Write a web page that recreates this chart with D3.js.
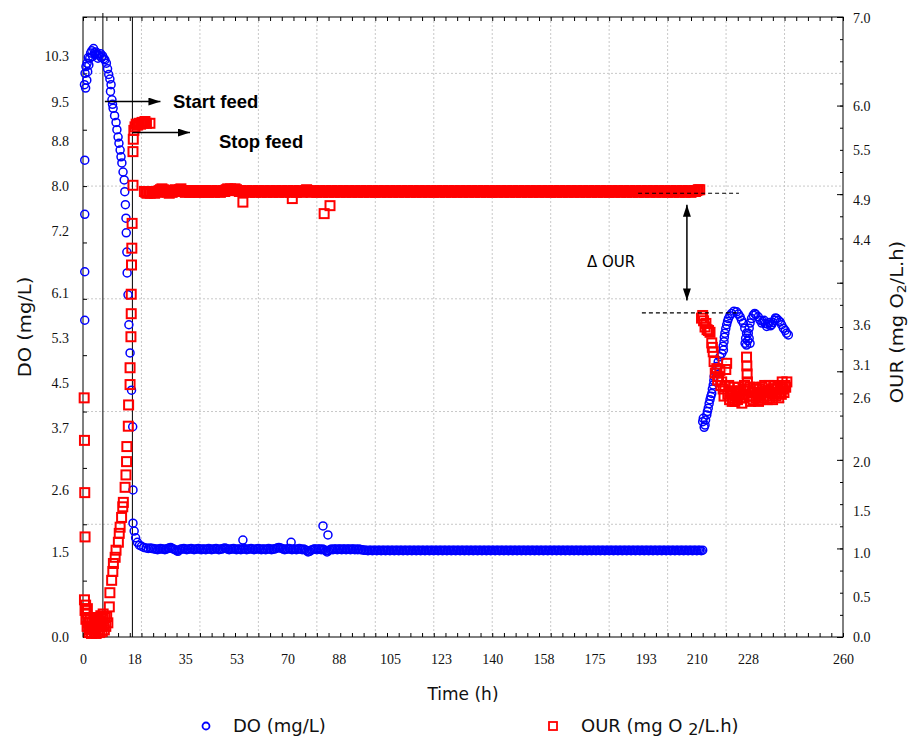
<!DOCTYPE html>
<html>
<head>
<meta charset="utf-8">
<script src="https://cdn.jsdelivr.net/npm/d3@7/dist/d3.min.js"></script>
<style>
  body { margin: 0; background: #fff; }
</style>
</head>
<body>
<div id="chart"></div>
<script>

// ---- data (time in h, DO in mg/L, OUR in mg O2/L.h) ----

var xTickPos = [0, 17.5, 35, 52.5, 70, 87.5, 105, 122.5, 140, 157.5, 175, 192.5, 210, 227.5, 260];
var xTickLabels = ["0", "18", "35", "53", "70", "88", "105", "123", "140", "158", "175", "193", "210", "228", "260"];
var leftTickLabels = ["0.0", "1.5", "2.6", "3.7", "4.5", "5.3", "6.1", "7.2", "8.0", "8.8", "9.5", "10.3"];
var rightTickLabels = ["0.0", "0.5", "1.0", "1.5", "2.0", "2.6", "3.1", "3.6", "4.4", "4.9", "5.5", "6.0", "7.0"];
var rightTickPos = [0, 0.45, 0.95, 1.42, 1.97, 2.7, 3.07, 3.52, 4.48, 4.93, 5.5, 5.99, 6.99];

// DO, start-up and feed phase [t, DO]
var doEarly = [
  [0.6, 8.46], [0.6, 7.50], [0.6, 6.48], [0.6, 5.62],
  [0.5, 9.80], [0.7, 10.0], [0.9, 9.74], [1.0, 10.12], [1.3, 9.88], [1.4, 10.18], [1.6, 10.03], [1.8, 10.28],
  [2.0, 10.15], [2.3, 10.27], [2.6, 10.36], [3.0, 10.40], [3.3, 10.30], [3.6, 10.44], [3.9, 10.36], [4.1, 10.33],
  [4.4, 10.38], [4.8, 10.34], [5.1, 10.27], [5.5, 10.32], [6.0, 10.35], [6.3, 10.28], [6.7, 10.31], [7.1, 10.26],
  [7.5, 10.24], [8.0, 10.18], [8.4, 10.08], [8.8, 9.98], [9.2, 9.90], [9.6, 9.80], [9.4, 9.68], [9.9, 9.53],
  [10.1, 9.45], [10.3, 9.38], [10.8, 9.25], [11.3, 9.13], [11.6, 9.00], [12.0, 8.87], [12.3, 8.76], [12.7, 8.64],
  [13.0, 8.52], [13.3, 8.41], [13.7, 8.25], [14.1, 8.11], [14.3, 7.90], [14.5, 7.67], [14.7, 7.43], [14.8, 7.17],
  [15.0, 6.83], [15.1, 6.46], [15.4, 6.07], [15.7, 5.54], [16.1, 5.04], [16.6, 4.38], [17.0, 3.73], [17.1, 2.61],
  [17.1, 2.02], [17.5, 1.88], [18.0, 1.76], [18.6, 1.68], [19.3, 1.63], [20.0, 1.61], [20.8, 1.59], [21.6, 1.58],
  [22.3, 1.57]
];

// DO, steady phase: readings every doBandStep h from doBandStart
var doBandStart = 23;
var doBandStep = 0.5;
var doBand = [
  1.58, 1.57, 1.57, 1.56, 1.56, 1.55, 1.56, 1.57, 1.56, 1.56, 1.55, 1.56, 1.57, 1.58, 1.59, 1.57, 1.56, 1.55, 1.53, 1.52,
  1.55, 1.56, 1.56, 1.57, 1.56, 1.55, 1.56, 1.56, 1.57, 1.56, 1.55, 1.56, 1.56, 1.57, 1.56, 1.55, 1.56, 1.56, 1.55, 1.56,
  1.57, 1.56, 1.55, 1.56, 1.56, 1.57, 1.56, 1.55, 1.56, 1.56, 1.57, 1.58, 1.57, 1.56, 1.55, 1.56, 1.56, 1.57, 1.56, 1.55,
  1.56, 1.56, 1.55, 1.56, 1.57, 1.56, 1.55, 1.56, 1.56, 1.57, 1.56, 1.55, 1.56, 1.56, 1.57, 1.56, 1.55, 1.56, 1.56, 1.55,
  1.56, 1.57, 1.56, 1.55, 1.56, 1.56, 1.57, 1.58, 1.59, 1.58, 1.57, 1.56, 1.55, 1.56, 1.56, 1.57, 1.56, 1.55, 1.56, 1.56,
  1.55, 1.56, 1.57, 1.56, 1.55, 1.56, 1.55, 1.53, 1.51, 1.52, 1.54, 1.55, 1.56, 1.56, 1.55, 1.56, 1.56, 1.55, 1.56, 1.55,
  1.53, 1.51, 1.53, 1.55, 1.56, 1.55, 1.56, 1.56, 1.55, 1.56, 1.56, 1.55, 1.56, 1.56, 1.55, 1.56, 1.56, 1.55, 1.56, 1.56,
  1.55, 1.56, 1.55, 1.56, 1.55, 1.55, 1.54, 1.54, 1.54, 1.53, 1.54, 1.54, 1.53, 1.54, 1.54, 1.53, 1.54, 1.54, 1.53, 1.54,
  1.54, 1.53, 1.54, 1.54, 1.53, 1.54, 1.54, 1.53, 1.54, 1.54, 1.53, 1.54, 1.54, 1.53, 1.54, 1.54, 1.53, 1.54, 1.54, 1.53,
  1.54, 1.54, 1.53, 1.54, 1.54, 1.53, 1.54, 1.54, 1.53, 1.54, 1.54, 1.53, 1.54, 1.54, 1.53, 1.54, 1.54, 1.53, 1.54, 1.54,
  1.53, 1.54, 1.54, 1.53, 1.54, 1.54, 1.53, 1.54, 1.54, 1.53, 1.54, 1.54, 1.53, 1.54, 1.54, 1.53, 1.54, 1.54, 1.53, 1.54,
  1.54, 1.53, 1.54, 1.54, 1.53, 1.54, 1.54, 1.53, 1.54, 1.54, 1.53, 1.54, 1.54, 1.53, 1.54, 1.54, 1.53, 1.54, 1.54, 1.53,
  1.54, 1.54, 1.53, 1.54, 1.54, 1.53, 1.54, 1.54, 1.53, 1.54, 1.54, 1.53, 1.54, 1.54, 1.53, 1.54, 1.54, 1.53, 1.54, 1.54,
  1.53, 1.54, 1.54, 1.53, 1.54, 1.54, 1.53, 1.54, 1.54, 1.53, 1.54, 1.54, 1.53, 1.54, 1.54, 1.53, 1.54, 1.54, 1.53, 1.54,
  1.54, 1.53, 1.54, 1.54, 1.53, 1.54, 1.54, 1.53, 1.54, 1.54, 1.53, 1.54, 1.54, 1.53, 1.54, 1.54, 1.53, 1.54, 1.54, 1.53,
  1.54, 1.54, 1.53, 1.54, 1.54, 1.53, 1.54, 1.54, 1.53, 1.54, 1.54, 1.53, 1.54, 1.54, 1.53, 1.54, 1.54, 1.53, 1.54, 1.54,
  1.53, 1.54, 1.54, 1.53, 1.54, 1.54, 1.53, 1.54, 1.54, 1.53, 1.54, 1.54, 1.53, 1.54, 1.54, 1.53, 1.54, 1.54, 1.53, 1.54,
  1.54, 1.53, 1.54, 1.54, 1.53, 1.54, 1.54, 1.53, 1.54, 1.54, 1.53, 1.54, 1.54, 1.53, 1.54, 1.54, 1.53, 1.54, 1.54, 1.53,
  1.54, 1.54, 1.53, 1.54, 1.54, 1.53, 1.54, 1.54, 1.53, 1.54, 1.54, 1.53, 1.54, 1.54, 1.53, 1.54, 1.54, 1.53, 1.54
];
var doOutliers = [[54.7, 1.72], [71.2, 1.68], [82.1, 1.97], [83.8, 1.81]];

// DO after the step change [t, DO]
var doCluster = [
  [212.0, 3.82], [212.2, 3.88], [212.5, 3.72], [212.8, 3.76], [213.0, 3.85], [213.4, 3.94], [213.6, 4.00], [213.9, 4.06],
  [214.2, 4.14], [214.5, 4.21], [214.8, 4.27], [215.1, 4.32], [215.3, 4.40], [215.6, 4.47], [215.8, 4.55], [215.9, 4.62],
  [216.3, 4.70], [216.8, 4.80], [217.3, 4.88], [217.9, 4.97], [218.5, 5.03], [219.1, 5.09], [219.0, 5.16], [219.3, 5.24],
  [219.4, 5.32], [219.6, 5.39], [219.9, 5.47], [220.2, 5.54], [220.5, 5.60], [220.8, 5.65], [221.3, 5.70], [221.9, 5.74],
  [222.7, 5.78], [223.6, 5.77], [224.2, 5.73], [224.8, 5.68], [225.3, 5.62], [225.9, 5.57], [226.4, 5.48], [227.0, 5.39],
  [226.7, 5.30], [226.5, 5.21], [227.0, 5.18], [227.4, 5.26], [228.2, 5.21], [227.9, 5.30], [227.6, 5.39], [227.9, 5.48],
  [228.2, 5.57], [228.7, 5.65], [229.3, 5.71], [229.8, 5.74], [230.2, 5.72], [231.0, 5.68], [231.6, 5.62], [232.2, 5.57],
  [232.6, 5.60], [233.0, 5.62], [233.4, 5.56], [233.9, 5.51], [234.3, 5.55], [234.8, 5.58], [235.2, 5.52], [235.6, 5.54],
  [236.0, 5.58], [236.5, 5.62], [236.9, 5.66], [237.3, 5.65], [237.9, 5.62], [238.5, 5.59], [239.0, 5.54], [239.6, 5.48],
  [240.2, 5.44], [240.7, 5.39], [241.3, 5.36]
];

// OUR, start-up and feed phase [t, OUR]
var ourEarly = [
  [0.4, 2.70], [0.5, 2.22], [0.6, 1.63], [0.7, 1.13],
  [0.5, 0.42], [0.7, 0.30], [0.9, 0.36], [1.0, 0.20], [1.2, 0.27], [1.4, 0.12], [1.5, 0.32], [1.7, 0.22],
  [1.9, 0.16], [2.1, 0.05], [2.3, 0.08], [2.5, 0.20], [2.7, 0.12], [2.9, 0.04], [3.1, 0.17], [3.3, 0.09],
  [3.5, 0.10], [3.7, 0.20], [3.9, 0.06], [4.1, 0.14], [4.3, 0.12], [4.5, 0.04], [4.7, 0.16], [4.9, 0.22],
  [5.1, 0.08], [5.3, 0.18], [5.5, 0.14], [5.7, 0.05], [5.9, 0.18], [6.1, 0.24], [6.3, 0.12], [6.5, 0.06],
  [6.7, 0.20], [6.9, 0.26], [7.1, 0.14], [7.3, 0.08], [7.5, 0.22], [7.8, 0.12], [8.1, 0.23], [8.5, 0.16],
  [9.0, 0.34], [9.2, 0.50], [9.8, 0.64], [10.2, 0.74], [10.4, 0.83], [11.0, 0.90], [11.3, 0.98], [12.1, 1.07],
  [12.4, 1.17], [12.7, 1.24], [13.2, 1.35], [13.6, 1.47], [13.8, 1.52], [14.4, 1.69], [14.7, 1.83], [14.9, 1.98],
  [15.0, 2.15], [15.5, 2.38], [15.6, 2.62], [16.1, 2.85], [16.1, 3.04], [16.4, 3.39], [16.5, 3.65], [16.5, 3.87],
  [16.6, 4.20], [16.7, 4.39], [16.8, 4.67], [17.1, 5.10], [17.1, 5.48], [17.2, 5.62], [17.4, 5.72], [17.8, 5.76],
  [18.2, 5.79], [18.7, 5.78], [19.2, 5.80], [19.7, 5.79], [20.2, 5.81], [20.7, 5.80], [21.2, 5.82], [21.7, 5.80],
  [22.9, 5.80]
];

// OUR, steady phase: readings every ourBandStep h from ourBandStart
var ourBandStart = 21;
var ourBandStep = 0.5;
var ourBand = [
  5.03, 5.02, 5.01, 5.02, 5.01, 5.03, 5.02, 5.01, 5.03, 5.02, 5.04, 5.05, 5.06, 5.05, 5.04, 5.03, 5.02, 5.01, 5.03, 5.02,
  5.04, 5.05, 5.04, 5.03, 5.05, 5.06, 5.04, 5.03, 5.02, 5.04, 5.03, 5.02, 5.04, 5.03, 5.02, 5.04, 5.03, 5.02, 5.03, 5.04,
  5.03, 5.02, 5.04, 5.03, 5.02, 5.03, 5.04, 5.03, 5.02, 5.03, 5.04, 5.03, 5.02, 5.03, 5.04, 5.03, 5.05, 5.06, 5.05, 5.06,
  5.05, 5.04, 5.06, 5.05, 5.04, 5.03, 5.04, 5.03, 5.02, 5.03, 5.04, 5.03, 5.02, 5.03, 5.04, 5.03, 5.02, 5.03, 5.04, 5.03,
  5.02, 5.03, 5.04, 5.03, 5.02, 5.03, 5.04, 5.03, 5.02, 5.03, 5.04, 5.03, 5.02, 5.03, 5.04, 5.03, 5.02, 5.03, 5.04, 5.03,
  5.02, 5.03, 5.04, 5.03, 5.02, 5.03, 5.04, 5.03, 5.02, 5.03, 5.04, 5.05, 5.04, 5.03, 5.02, 5.03, 5.04, 5.03, 5.02, 5.03,
  5.04, 5.03, 5.02, 5.03, 5.04, 5.03, 5.02, 5.03, 5.04, 5.03, 5.02, 5.03, 5.04, 5.03, 5.02, 5.03, 5.04, 5.03, 5.02, 5.03,
  5.04, 5.03, 5.02, 5.03, 5.04, 5.03, 5.02, 5.03, 5.04, 5.03, 5.02, 5.03, 5.04, 5.03, 5.02, 5.03, 5.04, 5.03, 5.02, 5.03,
  5.04, 5.03, 5.02, 5.03, 5.04, 5.03, 5.02, 5.03, 5.04, 5.03, 5.02, 5.03, 5.04, 5.03, 5.02, 5.03, 5.04, 5.03, 5.02, 5.03,
  5.04, 5.03, 5.02, 5.03, 5.04, 5.03, 5.02, 5.03, 5.04, 5.03, 5.02, 5.03, 5.04, 5.03, 5.02, 5.03, 5.04, 5.03, 5.02, 5.03,
  5.04, 5.03, 5.02, 5.03, 5.04, 5.03, 5.02, 5.03, 5.04, 5.03, 5.02, 5.03, 5.04, 5.03, 5.02, 5.03, 5.04, 5.03, 5.02, 5.03,
  5.04, 5.03, 5.02, 5.03, 5.04, 5.03, 5.02, 5.03, 5.04, 5.03, 5.02, 5.03, 5.04, 5.03, 5.02, 5.03, 5.04, 5.03, 5.02, 5.03,
  5.04, 5.03, 5.02, 5.03, 5.04, 5.03, 5.02, 5.03, 5.04, 5.03, 5.02, 5.03, 5.04, 5.03, 5.02, 5.03, 5.04, 5.03, 5.02, 5.03,
  5.04, 5.03, 5.02, 5.03, 5.04, 5.03, 5.02, 5.03, 5.04, 5.03, 5.02, 5.03, 5.04, 5.03, 5.02, 5.03, 5.04, 5.03, 5.02, 5.03,
  5.04, 5.03, 5.02, 5.03, 5.04, 5.03, 5.02, 5.03, 5.04, 5.03, 5.02, 5.03, 5.04, 5.03, 5.02, 5.03, 5.04, 5.03, 5.02, 5.03,
  5.04, 5.03, 5.02, 5.03, 5.04, 5.03, 5.02, 5.03, 5.04, 5.03, 5.02, 5.03, 5.04, 5.03, 5.02, 5.03, 5.04, 5.03, 5.02, 5.03,
  5.04, 5.03, 5.02, 5.03, 5.04, 5.03, 5.02, 5.03, 5.04, 5.03, 5.02, 5.03, 5.04, 5.03, 5.02, 5.03, 5.04, 5.03, 5.02, 5.03,
  5.04, 5.03, 5.02, 5.03, 5.04, 5.03, 5.02, 5.03, 5.04, 5.03, 5.02, 5.03, 5.04, 5.03, 5.02, 5.03, 5.04, 5.03, 5.02, 5.03,
  5.04, 5.03, 5.02, 5.03, 5.04, 5.03, 5.02, 5.03, 5.04, 5.03, 5.02, 5.03, 5.04, 5.03, 5.02, 5.03, 5.04, 5.03, 5.04, 5.05,
  5.05
];
var ourOutliers = [[54.7, 4.91], [71.6, 4.95], [82.5, 4.78], [84.5, 4.87]];

// OUR after the step change [t, OUR]
var ourCluster = [
  [211.6, 3.60], [212.0, 3.63], [212.3, 3.57], [212.8, 3.50], [213.1, 3.54], [213.5, 3.47], [214.0, 3.46], [214.5, 3.44],
  [215.1, 3.32], [215.3, 3.27], [215.6, 3.22], [215.9, 3.11], [216.3, 2.98], [216.8, 3.03], [217.1, 2.90], [217.4, 2.94],
  [217.9, 3.01], [218.2, 2.84], [218.5, 2.88], [219.0, 2.80], [219.3, 2.72], [219.6, 2.83], [219.9, 3.02], [220.2, 3.09],
  [220.6, 2.74], [220.9, 2.84], [221.2, 2.68], [221.5, 2.76], [221.8, 2.78], [222.1, 2.66], [222.4, 2.70], [222.7, 2.82],
  [223.0, 2.66], [223.3, 2.72], [223.6, 2.76], [223.9, 2.68], [224.2, 2.82], [224.5, 2.74], [224.8, 2.70], [225.1, 2.78],
  [225.4, 2.64], [225.7, 2.70], [226.0, 2.74], [226.3, 2.84], [226.6, 2.80], [227.0, 3.16], [227.1, 3.06], [227.2, 2.97],
  [227.3, 2.88], [227.6, 2.78], [227.8, 2.72], [228.1, 2.82], [228.4, 2.66], [228.7, 2.72], [229.0, 2.76], [229.3, 2.68],
  [229.6, 2.82], [229.9, 2.76], [230.2, 2.70], [230.5, 2.80], [230.8, 2.74], [231.1, 2.66], [231.4, 2.80], [231.7, 2.72],
  [232.0, 2.68], [232.3, 2.82], [232.6, 2.76], [232.9, 2.70], [233.2, 2.84], [233.5, 2.78], [233.8, 2.72], [234.1, 2.68],
  [234.4, 2.78], [234.7, 2.84], [235.0, 2.70], [235.3, 2.76], [235.6, 2.80], [235.9, 2.68], [236.2, 2.74], [236.5, 2.80],
  [236.8, 2.84], [237.1, 2.72], [237.4, 2.76], [237.7, 2.82], [238.0, 2.70], [238.3, 2.76], [238.6, 2.82], [238.9, 2.74],
  [239.2, 2.88], [239.5, 2.80], [239.8, 2.76], [240.1, 2.84], [240.4, 2.82], [240.8, 2.88]
];

// feed events (h)
var startFeedT = 6.8;
var stopFeedT = 16.9;

// ---- chart ----

var svgWidth = 909;
var svgHeight = 740;
var margin = { top: 17, right: 66, bottom: 103, left: 83 };
var width = svgWidth - margin.left - margin.right;
var height = svgHeight - margin.top - margin.bottom;

var tickFont = "'Liberation Serif', 'Times New Roman', serif";
var labelFont = "'DejaVu Sans', Verdana, sans-serif";

var svg = d3.select("#chart")
  .append("svg")
  .attr("width", svgWidth)
  .attr("height", svgHeight)
  .style("background", "#fff");

var defs = svg.append("defs");
defs.append("marker")
  .attr("id", "arrow")
  .attr("viewBox", "0 0 12 8")
  .attr("refX", 12)
  .attr("refY", 4)
  .attr("markerWidth", 12)
  .attr("markerHeight", 8)
  .attr("markerUnits", "userSpaceOnUse")
  .attr("orient", "auto-start-reverse")
  .append("path")
  .attr("d", "M0,0 L12,4 L0,8 Z")
  .attr("fill", "#000");

var chartGroup = svg.append("g")
  .attr("transform", `translate(${margin.left}, ${margin.top})`);

var xScale = d3.scaleLinear().domain([0, 260]).range([0, width]);
var yDO = d3.scaleLinear().domain([0, 11]).range([height, 0]);
var yOUR = d3.scaleLinear().domain([0, 7]).range([height, 0]);

// grid
chartGroup.append("g")
  .selectAll("line")
  .data(d3.range(20, 260, 20))
  .enter()
  .append("line")
  .attr("x1", d => xScale(d))
  .attr("x2", d => xScale(d))
  .attr("y1", 0)
  .attr("y2", height)
  .attr("stroke", "#c8c8c8")
  .attr("stroke-dasharray", "2,2");

chartGroup.append("g")
  .selectAll("line")
  .data([2, 4, 6, 8, 10])
  .enter()
  .append("line")
  .attr("x1", 0)
  .attr("x2", width)
  .attr("y1", d => yDO(d))
  .attr("y2", d => yDO(d))
  .attr("stroke", "#c8c8c8")
  .attr("stroke-dasharray", "2,2");

// axes
function styleAxis(sel) {
  sel.select(".domain").remove();
  sel.selectAll("line").attr("stroke", "#000");
  sel.attr("font-family", tickFont).attr("font-size", 14);
  sel.selectAll("text").attr("fill", "#111");
}

chartGroup.append("g")
  .attr("transform", `translate(0, ${height})`)
  .call(d3.axisBottom(xScale).tickValues(d3.range(0, 261, 4)).tickSize(-4).tickFormat(""))
  .call(styleAxis);

chartGroup.append("g")
  .call(d3.axisTop(xScale).tickValues(d3.range(0, 261, 4)).tickSize(-4).tickFormat(""))
  .call(styleAxis);

chartGroup.append("g")
  .attr("transform", `translate(0, ${height})`)
  .call(d3.axisBottom(xScale).tickValues(xTickPos).tickSize(0).tickPadding(17)
    .tickFormat((d, i) => xTickLabels[i]))
  .call(styleAxis);

chartGroup.append("g")
  .call(d3.axisLeft(yDO).tickValues(d3.range(0, 12, 1)).tickSize(-4).tickFormat(""))
  .call(styleAxis);

chartGroup.append("g")
  .call(d3.axisLeft(yDO).tickValues(leftTickLabels.map(Number)).tickSize(0).tickPadding(14)
    .tickFormat((d, i) => leftTickLabels[i]))
  .call(styleAxis);

chartGroup.append("g")
  .attr("transform", `translate(${width}, 0)`)
  .call(d3.axisRight(yOUR).tickValues(d3.range(0, 7.01, 0.25)).tickSize(-3).tickFormat(""))
  .call(styleAxis);

chartGroup.append("g")
  .attr("transform", `translate(${width}, 0)`)
  .call(d3.axisRight(yOUR).tickValues(d3.range(0, 8, 1)).tickSize(-6).tickFormat(""))
  .call(styleAxis);

chartGroup.append("g")
  .attr("transform", `translate(${width}, 0)`)
  .call(d3.axisRight(yOUR).tickValues(rightTickPos).tickSize(0).tickPadding(10)
    .tickFormat((d, i) => rightTickLabels[i]))
  .call(styleAxis);

chartGroup.append("rect")
  .attr("width", width)
  .attr("height", height)
  .attr("fill", "none")
  .attr("stroke", "#000")
  .attr("stroke-width", 1);

// feed lines
chartGroup.append("line")
  .attr("x1", xScale(startFeedT)).attr("x2", xScale(startFeedT))
  .attr("y1", -4).attr("y2", height)
  .attr("stroke", "#000");

chartGroup.append("line")
  .attr("x1", xScale(stopFeedT)).attr("x2", xScale(stopFeedT))
  .attr("y1", 0).attr("y2", height)
  .attr("stroke", "#000");

// series
var doData = doEarly
  .concat(doBand.map((v, i) => [doBandStart + i * doBandStep, v]))
  .concat(doOutliers)
  .concat(doCluster);

var ourData = ourEarly
  .concat(ourBand.map((v, i) => [ourBandStart + i * ourBandStep, v]))
  .concat(ourOutliers)
  .concat(ourCluster);

chartGroup.append("g")
  .selectAll("circle")
  .data(doData)
  .enter()
  .append("circle")
  .attr("cx", d => xScale(d[0]))
  .attr("cy", d => yDO(d[1]))
  .attr("r", 4)
  .attr("fill", "none")
  .attr("stroke", "#0000ff")
  .attr("stroke-width", 1.5);

var sq = 9;
chartGroup.append("g")
  .selectAll("rect")
  .data(ourData)
  .enter()
  .append("rect")
  .attr("x", d => xScale(d[0]) - sq / 2)
  .attr("y", d => yOUR(d[1]) - sq / 2)
  .attr("width", sq)
  .attr("height", sq)
  .attr("fill", "none")
  .attr("stroke", "#ff0000")
  .attr("stroke-width", 2);

// annotations
chartGroup.append("line")
  .attr("x1", xScale(startFeedT) + 2).attr("x2", xScale(26.5))
  .attr("y1", yDO(9.5)).attr("y2", yDO(9.5))
  .attr("stroke", "#000").attr("stroke-width", 1.5)
  .attr("marker-end", "url(#arrow)");

chartGroup.append("text")
  .attr("x", xScale(30.8))
  .attr("y", yDO(9.5) + 6.5)
  .attr("font-family", "'Liberation Sans', Arial, sans-serif")
  .attr("font-weight", "bold")
  .attr("font-size", 18.5)
  .text("Start feed");

chartGroup.append("line")
  .attr("x1", xScale(stopFeedT)).attr("x2", xScale(36.6))
  .attr("y1", yDO(8.95)).attr("y2", yDO(8.95))
  .attr("stroke", "#000").attr("stroke-width", 1.5)
  .attr("marker-end", "url(#arrow)");

chartGroup.append("text")
  .attr("x", xScale(46.5))
  .attr("y", yDO(8.8) + 6.5)
  .attr("font-family", "'Liberation Sans', Arial, sans-serif")
  .attr("font-weight", "bold")
  .attr("font-size", 18.5)
  .text("Stop feed");

chartGroup.append("line")
  .attr("x1", xScale(189.9)).attr("x2", xScale(224.4))
  .attr("y1", yOUR(5.01)).attr("y2", yOUR(5.01))
  .attr("stroke", "#000").attr("stroke-width", 1.2)
  .attr("stroke-dasharray", "4,3");

chartGroup.append("line")
  .attr("x1", xScale(191.2)).attr("x2", xScale(224.4))
  .attr("y1", yOUR(3.66)).attr("y2", yOUR(3.66))
  .attr("stroke", "#000").attr("stroke-width", 1.2)
  .attr("stroke-dasharray", "4,3");

chartGroup.append("line")
  .attr("x1", xScale(206.6)).attr("x2", xScale(206.6))
  .attr("y1", yOUR(4.88)).attr("y2", yOUR(3.80))
  .attr("stroke", "#000").attr("stroke-width", 1.5)
  .attr("marker-start", "url(#arrow)")
  .attr("marker-end", "url(#arrow)");

chartGroup.append("text")
  .attr("x", xScale(172.4))
  .attr("y", yOUR(4.23) + 5)
  .attr("font-family", labelFont)
  .attr("font-size", 15)
  .text("\u0394 OUR");

// axis titles
svg.append("text")
  .attr("transform", `translate(31, ${margin.top + height / 2}) rotate(-90) scale(1.15, 1)`)
  .attr("text-anchor", "middle")
  .attr("font-family", labelFont)
  .attr("font-size", 17)
  .attr("fill", "#111")
  .text("DO (mg/L)");

var ourTitle = svg.append("text")
  .attr("transform", `translate(903, ${margin.top + height / 2 - 5}) rotate(-90) scale(1.15, 1)`)
  .attr("text-anchor", "middle")
  .attr("font-family", labelFont)
  .attr("font-size", 17)
  .attr("fill", "#111");
ourTitle.append("tspan").text("OUR (mg O");
ourTitle.append("tspan").attr("font-size", 12).attr("dy", 3).text("2");
ourTitle.append("tspan").attr("dy", -3).text("/L.h)");

svg.append("text")
  .attr("x", margin.left + width / 2)
  .attr("y", 700)
  .attr("text-anchor", "middle")
  .attr("font-family", labelFont)
  .attr("font-size", 17)
  .attr("fill", "#111")
  .text("Time (h)");

// legend
svg.append("circle")
  .attr("cx", 206).attr("cy", 726).attr("r", 3.5)
  .attr("fill", "none").attr("stroke", "#0000ff").attr("stroke-width", 1.8);

svg.append("text")
  .attr("x", 233).attr("y", 732)
  .attr("font-family", labelFont)
  .attr("font-size", 18)
  .attr("fill", "#111")
  .text("DO (mg/L)");

svg.append("rect")
  .attr("x", 549).attr("y", 722).attr("width", 8).attr("height", 8)
  .attr("fill", "none").attr("stroke", "#ff0000").attr("stroke-width", 1.8);

var ourLegend = svg.append("text")
  .attr("x", 581).attr("y", 732)
  .attr("font-family", labelFont)
  .attr("font-size", 18)
  .attr("fill", "#111");
ourLegend.append("tspan").text("OUR (mg O ");
ourLegend.append("tspan").attr("font-size", 16).attr("dy", 3).text("2");
ourLegend.append("tspan").attr("dy", -3).text("/L.h)");

</script>
</body>
</html>
